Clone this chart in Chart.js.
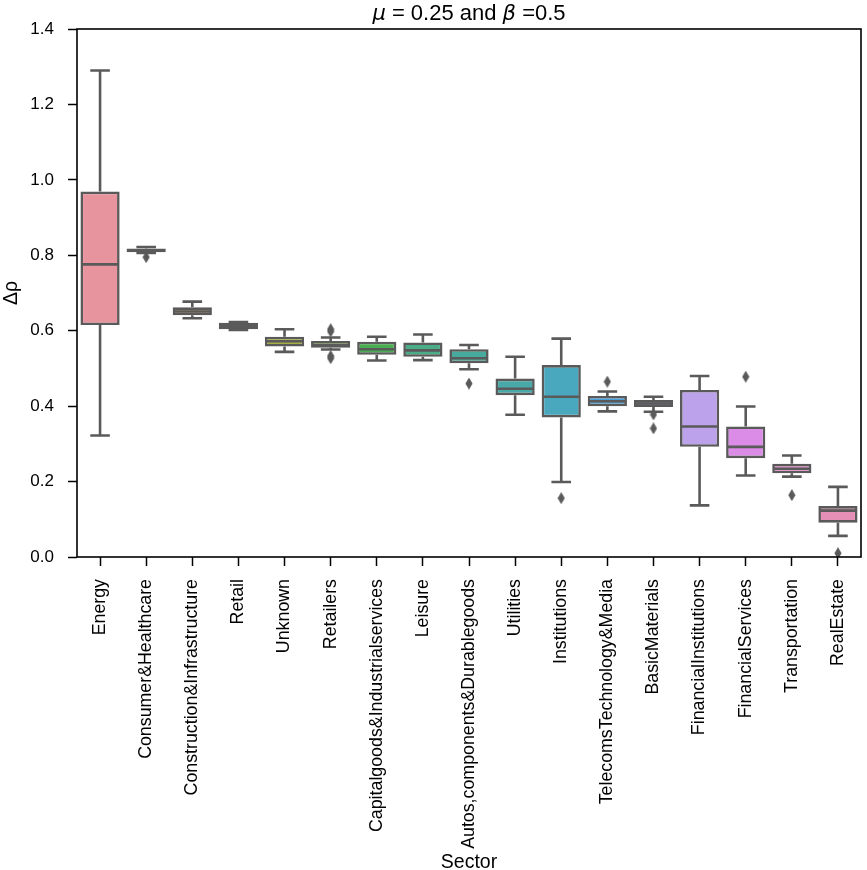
<!DOCTYPE html>
<html><head><meta charset="utf-8">
<script src="https://cdn.jsdelivr.net/npm/chart.js@4.4.0/dist/chart.umd.min.js"></script>
<style>html,body{margin:0;padding:0;background:#fff}#wrap{width:867px;height:870px;position:relative}</style>
</head><body><div id="wrap"><canvas id="c" width="867" height="870"></canvas></div>
<script>
const categories = ['Energy','Consumer&Healthcare','Construction&Infrastructure','Retail','Unknown','Retailers','Capitalgoods&Industrialservices','Leisure','Autos,components&Durablegoods','Utilities','Institutions','TelecomsTechnology&Media','BasicMaterials','FinancialInstitutions','FinancialServices','Transportation','RealEstate'];
const whiskerLow  = [0.322, 0.806, 0.633, 0.602, 0.544, 0.550, 0.521, 0.522, 0.498, 0.377, 0.199, 0.386, 0.385, 0.137, 0.216, 0.213, 0.056];
const q1          = [0.615, 0.808, 0.641, 0.604, 0.558, 0.555, 0.536, 0.531, 0.514, 0.429, 0.370, 0.400, 0.398, 0.292, 0.262, 0.222, 0.091];
const median      = [0.776, 0.813, 0.651, 0.613, 0.572, 0.562, 0.551, 0.548, 0.527, 0.446, 0.425, 0.413, 0.407, 0.346, 0.292, 0.234, 0.123];
const q3          = [0.969, 0.818, 0.662, 0.621, 0.584, 0.573, 0.571, 0.569, 0.551, 0.473, 0.509, 0.427, 0.416, 0.443, 0.346, 0.247, 0.135];
const whiskerHigh = [1.290, 0.822, 0.677, 0.623, 0.604, 0.582, 0.584, 0.590, 0.562, 0.531, 0.579, 0.439, 0.425, 0.480, 0.399, 0.269, 0.186];
const outlierCategory = ['Consumer&Healthcare','Retailers','Retailers','Retailers','Retailers','Autos,components&Durablegoods','Institutions','TelecomsTechnology&Media','BasicMaterials','BasicMaterials','FinancialServices','Transportation','RealEstate'];
const outlierValue    = [0.795, 0.598, 0.604, 0.527, 0.533, 0.460, 0.156, 0.465, 0.378, 0.341, 0.478, 0.164, 0.010];
const yTickValues = [0.0, 0.2, 0.4, 0.6, 0.8, 1.0, 1.2, 1.4];
const boxColors = ['#e8949f','#dc9a7b','#cca15f','#b8a750','#a5ad46','#86b049','#4aad52','#4aad88','#46ab9c','#48a9a8','#4aa8be','#4d9fd9','#949ce8','#bca2ea','#db8ce7','#e58bcb','#e68fb6'];

const LINE = '#5a5a5a';
const FONT = "'Liberation Sans', Arial, Helvetica, sans-serif";

const dia = document.createElement('canvas');
dia.width = 8; dia.height = 12;
(function(){const d=dia.getContext('2d');d.fillStyle=LINE;d.beginPath();d.moveTo(4,0);d.lineTo(7.6,6);d.lineTo(4,12);d.lineTo(0.4,6);d.closePath();d.fill();})();

const boxLines = {
  id: 'boxLines',
  afterDatasetDraw(chart, args) {
    if (args.index !== 0) return;
    const ctx = chart.ctx, xs = chart.scales.x, ys = chart.scales.y, ca = chart.chartArea;
    const meta = chart.getDatasetMeta(0);
    ctx.save();
    ctx.beginPath(); ctx.rect(ca.left, ca.top, ca.right - ca.left, ca.bottom - ca.top); ctx.clip();
    ctx.strokeStyle = LINE; ctx.lineWidth = 2.6; ctx.lineCap = 'butt';
    categories.forEach((c, i) => {
      const el = meta.data[i];
      const x = xs.getPixelForValue(i);
      const bw = el.width;
      const yl = ys.getPixelForValue(whiskerLow[i]);
      const y1 = ys.getPixelForValue(q1[i]);
      const ym = ys.getPixelForValue(median[i]);
      const y3 = ys.getPixelForValue(q3[i]);
      const yh = ys.getPixelForValue(whiskerHigh[i]);
      ctx.beginPath();
      ctx.moveTo(x, yh); ctx.lineTo(x, y3);
      ctx.moveTo(x, y1); ctx.lineTo(x, yl);
      ctx.moveTo(x - bw / 4, yh); ctx.lineTo(x + bw / 4, yh);
      ctx.moveTo(x - bw / 4, yl); ctx.lineTo(x + bw / 4, yl);
      ctx.moveTo(x - bw / 2 + 1.3, ym); ctx.lineTo(x + bw / 2 - 1.3, ym);
      ctx.stroke();
    });
    ctx.restore();
  }
};

const frameAndTitle = {
  id: 'frameAndTitle',
  afterDraw(chart) {
    const ctx = chart.ctx, ca = chart.chartArea;
    ctx.save();
    ctx.strokeStyle = '#000'; ctx.lineWidth = 1.6;
    ctx.strokeRect(ca.left, ca.top, ca.right - ca.left, ca.bottom - ca.top);
    const parts = [
      {t: 'μ', f: "italic 21px 'DejaVu Sans', sans-serif"},
      {t: ' = 0.25 and ', f: '22px ' + FONT},
      {t: 'β', f: "italic 21px 'DejaVu Sans', sans-serif"},
      {t: ' =0.5', f: '22px ' + FONT}
    ];
    let total = 0;
    parts.forEach(p => { ctx.font = p.f; p.w = ctx.measureText(p.t).width; total += p.w; });
    let x = (ca.left + ca.right) / 2 - total / 2;
    ctx.fillStyle = '#000'; ctx.textBaseline = 'alphabetic'; ctx.textAlign = 'left';
    parts.forEach(p => { ctx.font = p.f; ctx.fillText(p.t, x, 20); x += p.w; });
    ctx.restore();
  }
};

new Chart(document.getElementById('c'), {
  type: 'bar',
  data: {
    labels: categories,
    datasets: [
      {
        type: 'bar',
        data: categories.map((c, i) => [q1[i], q3[i]]),
        backgroundColor: boxColors,
        borderColor: LINE,
        borderWidth: 2.6,
        borderSkipped: false,
        barPercentage: 0.85,
        categoryPercentage: 1,
        order: 2
      },
      {
        type: 'line',
        data: outlierCategory.map((c, k) => ({x: c, y: outlierValue[k]})),
        showLine: false,
        pointStyle: dia,
        pointRadius: 5,
        pointHoverRadius: 5,
        backgroundColor: LINE,
        borderColor: LINE,
        order: 1
      }
    ]
  },
  options: {
    responsive: false,
    animation: false,
    devicePixelRatio: 1,
    layout: {padding: {top: 29, right: 2, left: 0, bottom: 0}},
    plugins: {legend: {display: false}, tooltip: {enabled: false}},
    scales: {
      x: {
        type: 'category',
        offset: true,
        grid: {display: true, offset: false, drawOnChartArea: false, drawTicks: true, tickLength: 9, tickColor: '#000', tickWidth: 1.5},
        border: {display: false},
        ticks: {color: '#000', font: {family: FONT, size: 17.8}, maxRotation: 90, minRotation: 90, padding: 13, autoSkip: false},
        title: {display: true, text: 'Sector', color: '#000', font: {family: FONT, size: 19.5, lineHeight: 1}, padding: {top: 0, bottom: -2}},
        afterFit(s) { s.height = 313; s.paddingLeft = 0; s.paddingRight = 0; }
      },
      y: {
        min: 0, max: 1.4,
        afterBuildTicks(s) { s.ticks = yTickValues.map(v => ({value: v})); },
        grid: {display: true, drawOnChartArea: false, drawTicks: true, tickLength: 9, tickColor: '#000', tickWidth: 1.5},
        border: {display: false},
        ticks: {color: '#000', font: {family: FONT, size: 17}, padding: 14, callback: v => Number(v).toFixed(1)},
        title: {display: true, text: 'Δρ', color: '#000', font: {family: FONT, size: 19.5, lineHeight: 1.2}, padding: 0},
        afterFit(s) { s.width = 77; s.paddingTop = 0; s.paddingBottom = 0; }
      }
    }
  },
  plugins: [boxLines, frameAndTitle]
});
</script></body></html>
